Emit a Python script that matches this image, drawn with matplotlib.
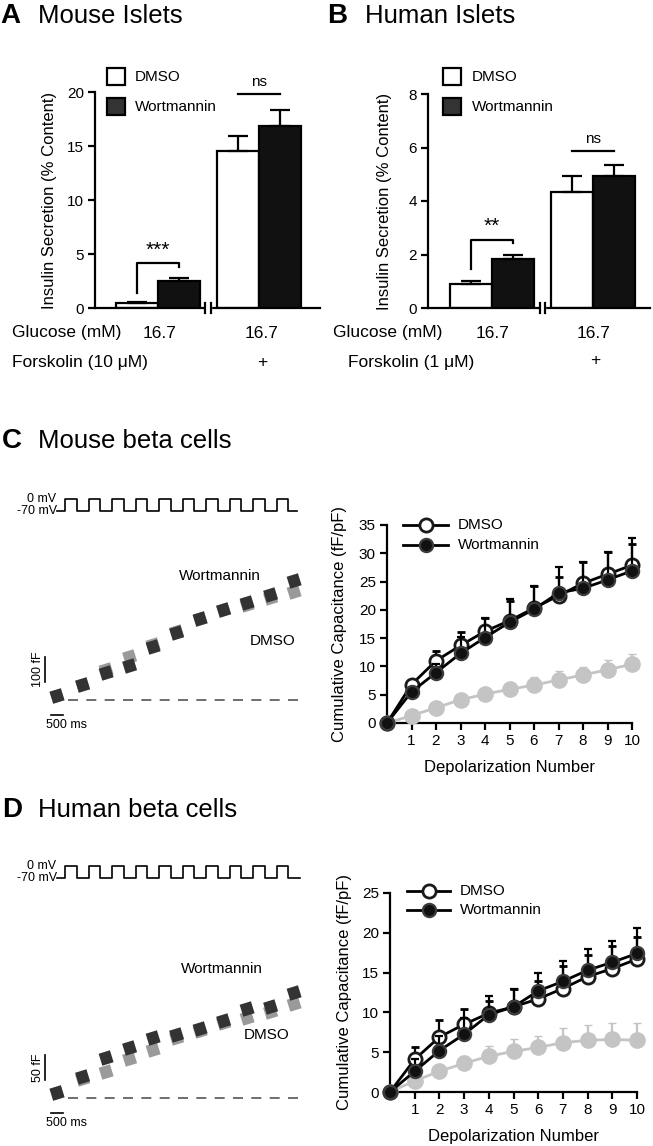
import matplotlib
matplotlib.use('Agg')
import matplotlib.pyplot as plt
import matplotlib.transforms as mtransforms
from matplotlib.patches import Rectangle
import numpy as np

plt.rcParams['font.family'] = ['Liberation Sans', 'DejaVu Sans']

W, H = 653, 1146


def box(l, t, r, b):
    # pixel box -> figure fraction
    return [l / W, 1 - b / H, (r - l) / W, (b - t) / H]


# ---------------- data ----------------
# A/B insulin secretion (% content): [16.7 mM glucose, 16.7 + forskolin]
mouse_dmso = [0.5, 14.5]
mouse_dmso_err = [0.05, 1.4]
mouse_wort = [2.5, 16.85]
mouse_wort_err = [0.3, 1.45]
human_dmso = [0.9, 4.35]
human_dmso_err = [0.12, 0.6]
human_wort = [1.83, 4.92]
human_wort_err = [0.15, 0.43]

# C/D cumulative capacitance (fF/pF)
depol = [0, 1, 2, 3, 4, 5, 6, 7, 8, 9, 10]
mouse_cap_dmso = [0, 6.8, 11.0, 13.7, 16.2, 18.1, 20.3, 22.5, 24.7, 26.3, 27.9]
mouse_cap_dmso_err = [0, 0.5, 1.7, 2.4, 2.4, 3.5, 3.9, 3.3, 3.7, 3.9, 3.8]
mouse_cap_wort = [0, 5.5, 8.9, 12.3, 15.1, 17.8, 20.1, 23.0, 23.8, 25.3, 26.9]
mouse_cap_wort_err = [0, 0.5, 1.5, 2.9, 3.5, 4.1, 4.1, 4.6, 4.6, 5.0, 5.8]
mouse_cap_grey = [0, 1.3, 2.7, 4.1, 5.1, 5.95, 6.7, 7.6, 8.5, 9.4, 10.4]
mouse_cap_grey_err = [0, 0.3, 0.4, 0.6, 0.9, 1.0, 1.4, 1.6, 1.4, 1.7, 1.8]

human_cap_dmso = [0, 4.1, 6.9, 8.5, 9.9, 10.7, 11.7, 13.0, 14.5, 15.5, 16.7]
human_cap_dmso_err = [0, 1.6, 2.1, 1.9, 1.5, 2.2, 2.2, 2.8, 2.7, 2.8, 2.8]
human_cap_wort = [0, 2.6, 5.2, 7.25, 9.7, 10.7, 12.7, 13.9, 15.3, 16.3, 17.4]
human_cap_wort_err = [0, 1.5, 1.8, 2.0, 2.3, 2.2, 2.3, 2.6, 2.7, 2.7, 3.2]
human_cap_grey = [0, 1.4, 2.6, 3.6, 4.5, 5.1, 5.6, 6.2, 6.5, 6.6, 6.5]
human_cap_grey_err = [0, 0.3, 0.5, 0.9, 1.3, 1.5, 1.4, 1.8, 1.9, 2.1, 2.2]

# example traces: pulse protocol (ms) and capacitance level after each pulse (fF)
pulse_starts = [0, 1000, 2000, 3000, 4000, 5000, 6000, 7000, 8000, 9000]
pulse_len = 500
seg_time = [-340, 750, 1750, 2750, 3750, 4750, 5750, 6750, 7750, 8750, 9750]
mouse_trace_wort = [16, 60, 108, 136, 212, 268, 324, 360, 388, 420, 476]
mouse_trace_dmso = [16, 60, 120, 172, 220, 272, 324, 360, 380, 408, 432]
human_trace_wort = [10, 42, 80, 100, 120, 126, 138, 154, 178, 182, 210]
human_trace_dmso = [10, 38, 52, 78, 96, 120, 134, 150, 160, 172, 188]

fig = plt.figure(figsize=(W / 100, H / 100), dpi=100)

BLACK = '#111111'
GREY = '#c4c4c4'


# ---------------- bar panels ----------------
def bar_panel(rect, dmso, dmso_err, wort, wort_err, xlim, ymax, yticks,
              star, bracket, star_y, ns_y, ns_txt_y, label_x):
    ax = fig.add_axes(rect)
    x = np.arange(len(dmso))
    w = 0.416
    ekw = dict(ecolor='black', elinewidth=1.6, capsize=7, capthick=1.6)
    ax.bar(x - w / 2, dmso, w, yerr=[np.zeros(len(dmso)), dmso_err],
           color='white', edgecolor='black', linewidth=1.6, error_kw=ekw)
    ax.bar(x + w / 2, wort, w, yerr=[np.zeros(len(wort)), wort_err],
           color=BLACK, edgecolor='black', linewidth=1.6, error_kw=ekw)
    ax.set_xlim(*xlim)
    ax.set_ylim(0, ymax)
    ax.set_yticks(yticks)
    ax.set_xticks([])
    for s in ['top', 'right']:
        ax.spines[s].set_visible(False)
    for s in ['left', 'bottom']:
        ax.spines[s].set_linewidth(1.6)
    ax.tick_params(axis='y', length=5, width=1.6, labelsize=11, pad=3)
    ax.set_ylabel('Insulin Secretion (% Content)', fontsize=12)
    ax.yaxis.set_label_coords(label_x, 0.5)

    # axis break
    tr = mtransforms.blended_transform_factory(ax.transData, ax.transAxes)
    ax.add_patch(Rectangle((0.47, -0.03), 0.05, 0.06, transform=tr,
                           color='white', clip_on=False, zorder=5))
    for bx in [0.47, 0.52]:
        ax.plot([bx, bx], [-0.022, 0.022], transform=tr, color='black',
                lw=1.6, clip_on=False, zorder=6)

    # significance
    l, r = -w / 2, w / 2
    b0, top, b1 = bracket
    ax.plot([l, l, r, r], [b0, top, top, b1], color='black', lw=1.6)
    ax.text(0, star_y, star, ha='center', va='center', fontsize=15)
    ax.plot([1 - w / 2, 1 + w / 2], [ns_y, ns_y], color='black', lw=1.6)
    ax.text(1, ns_txt_y, 'ns', ha='center', va='center', fontsize=11)
    return ax


axA = bar_panel(box(95, 92, 320, 308), mouse_dmso, mouse_dmso_err,
                mouse_wort, mouse_wort_err, (-0.624, 1.604), 20,
                [0, 5, 10, 15, 20], '***', (1.4, 4.17, 3.8), 5.3,
                19.8, 20.9, -0.169)
axB = bar_panel(box(428, 94, 650, 308), human_dmso, human_dmso_err,
                human_wort, human_wort_err, (-0.634, 1.564), 8,
                [0, 2, 4, 6, 8], '**', (1.46, 2.54, 2.43), 3.05,
                5.88, 6.3, -0.162)


# ---------------- capacitance panels ----------------
def cap_panel(rect, dmso, dmso_err, wort, wort_err, grey, grey_err,
              ymax, label_x):
    ax = fig.add_axes(rect)
    z = np.zeros(len(depol))
    series = [
        (grey, grey_err, dict(color=GREY, mfc=GREY, mec=GREY, ms=11, mew=1,
                              ecolor=GREY)),
        (dmso, dmso_err, dict(color='black', mfc='white', mec='#1a1a1a',
                              ms=9.5, mew=2, ecolor='black')),
        (wort, wort_err, dict(color='black', mfc=BLACK, mec='#3c3c3c',
                              ms=9.5, mew=1.6, ecolor='black')),
    ]
    for k, (y, e, st) in enumerate(series):
        cont = ax.errorbar(depol, y, yerr=[z, e], marker='o', lw=2,
                           capsize=3, elinewidth=1.6, capthick=1.6,
                           zorder=3 + k, **st)
        for child in cont.get_children():
            child.set_clip_on(False)
    ax.set_xlim(0, 10)
    ax.set_ylim(0, ymax)
    ax.set_xticks(depol[1:])
    ax.set_yticks(np.arange(0, ymax + 1, 5))
    for s in ['top', 'right']:
        ax.spines[s].set_visible(False)
    for s in ['left', 'bottom']:
        ax.spines[s].set_linewidth(1.6)
    ax.tick_params(length=5, width=1.6, labelsize=11, pad=3)
    ax.set_ylabel('Cumulative Capacitance (fF/pF)', fontsize=12)
    ax.yaxis.set_label_coords(label_x, 0.5)
    ax.set_xlabel('Depolarization Number', fontsize=12)
    ax.xaxis.set_label_coords(0.5, -0.187)
    return ax


axC2 = cap_panel(box(387, 525, 632, 723), mouse_cap_dmso, mouse_cap_dmso_err,
                 mouse_cap_wort, mouse_cap_wort_err, mouse_cap_grey,
                 mouse_cap_grey_err, 35, -0.163)
axD2 = cap_panel(box(390, 893, 637, 1092), human_cap_dmso, human_cap_dmso_err,
                 human_cap_wort, human_cap_wort_err, human_cap_grey,
                 human_cap_grey_err, 25, -0.154)


# ---------------- example traces ----------------
MS_PER_PX = 1000 / 23.5


def t_of(px):
    return (px - 65) * MS_PER_PX


def trace_panel(v_box, c_box, v_ylim, c_ylim, wort, dmso, half_blob,
                bar_len, bar_lab, wave_end, lab_wort, lab_dmso):
    xl = (t_of(10), t_of(320))
    # voltage protocol
    av = fig.add_axes(v_box)
    tw, vw = [t_of(57)], [-70]
    for s in pulse_starts:
        tw += [s, s, s + pulse_len, s + pulse_len]
        vw += [-70, 0, 0, -70]
    tw.append(wave_end)
    vw.append(-70)
    av.plot(tw, vw, color='black', lw=1.2)
    av.set_xlim(*xl)
    av.set_ylim(*v_ylim)
    av.axis('off')
    av.text(t_of(56), 0, '0 mV', ha='right', va='center', fontsize=9)
    av.text(t_of(57), -70, '-70 mV', ha='right', va='center', fontsize=9)

    # capacitance
    ac = fig.add_axes(c_box)
    for lev, col in [(dmso, '#9a9a9a'), (wort, '#333333')]:
        for t, c in zip(seg_time, lev):
            ac.plot([t - 240, t + 240], [c - half_blob, c + half_blob],
                    color=col, lw=9, solid_capstyle='butt')
    ac.plot([t_of(68), t_of(301)], [0, 0], color='#555555', lw=1.2,
            dashes=(6, 5))
    ac.set_xlim(*xl)
    ac.set_ylim(*c_ylim)
    ac.axis('off')
    # scale bars
    bx = t_of(45)
    ac.plot([bx, bx], [bar_len * 0.72, bar_len * 1.72], color='black', lw=1.2)
    ac.text(t_of(38), bar_len * 1.22, bar_lab, rotation=90, ha='center',
            va='center', fontsize=9)
    ac.plot([-600, -100], [-bar_len * 0.6, -bar_len * 0.6], color='black',
            lw=1.2)
    ac.text(t_of(66), -bar_len, '500 ms', ha='center', va='center',
            fontsize=9)
    ac.text(t_of(lab_wort[0]), lab_wort[1], 'Wortmannin', ha='center',
            va='center', fontsize=11)
    ac.text(t_of(lab_dmso[0]), lab_dmso[1], 'DMSO', ha='center',
            va='center', fontsize=11)


trace_panel(box(10, 490, 320, 520), box(10, 555, 320, 735),
            (-70 - 9 * 70 / 12, -70 + 21 * 70 / 12), (-140, 580),
            mouse_trace_wort, mouse_trace_dmso, 7, 100, '100 fF',
            t_of(297), (220, 496), (273, 236))
trace_panel(box(10, 855, 320, 885), box(10, 950, 320, 1130),
            (-70 - 7 * 70 / 12, -70 + 23 * 70 / 12), (-64, 296),
            human_trace_wort, human_trace_dmso, 3.5, 50, '50 fF',
            t_of(300), (222, 258), (267, 126))

# ---------------- overlay: titles, legends, row labels ----------------
ov = fig.add_axes([0, 0, 1, 1], zorder=10)
ov.set_xlim(0, W)
ov.set_ylim(H, 0)
ov.axis('off')
ov.patch.set_visible(False)

for letter, lx, title, tx, ty in [('A', 0, 'Mouse Islets', 38, 23),
                                  ('B', 327, 'Human Islets', 365, 23),
                                  ('C', 2, 'Mouse beta cells', 38, 448),
                                  ('D', 2, 'Human beta cells', 38, 817)]:
    ov.text(lx, ty, letter, fontsize=20, fontweight='bold', va='baseline')
    ov.text(tx, ty, title, fontsize=18.5, va='baseline')

# bar legends
for lx, tx in [(107, 135), (443, 472)]:
    ov.add_patch(Rectangle((lx, 68), 18, 17, facecolor='white',
                           edgecolor='black', lw=1.6))
    ov.add_patch(Rectangle((lx, 98), 18, 17, facecolor='#333333',
                           edgecolor='black', lw=1.6))
    ov.text(tx, 77, 'DMSO', fontsize=11, va='center')
    ov.text(tx, 107, 'Wortmannin', fontsize=11, va='center')

# line legends
for x0, x1, tx, y0, y1 in [(403, 448, 458, 525, 545),
                           (407, 450, 460, 891, 910)]:
    xm = (x0 + x1) / 2
    ov.plot([x0, x1], [y0, y0], color='black', lw=2)
    ov.plot([xm], [y0], marker='o', ms=9.5, mfc='white', mec='#1a1a1a', mew=2)
    ov.text(tx, y0, 'DMSO', fontsize=11, va='center')
    ov.plot([x0, x1], [y1, y1], color='black', lw=2)
    ov.plot([xm], [y1], marker='o', ms=9.5, mfc=BLACK, mec='#3c3c3c', mew=1.6)
    ov.text(tx, y1, 'Wortmannin', fontsize=11, va='center')

# treatment rows
ov.text(12, 333, 'Glucose (mM)', fontsize=12.5, va='center')
ov.text(160, 333, '16.7', fontsize=12.5, va='center', ha='center')
ov.text(262, 333, '16.7', fontsize=12.5, va='center', ha='center')
ov.text(12, 363, 'Forskolin (10 μM)', fontsize=12.5, va='center')
ov.text(262, 362, '+', fontsize=12.5, va='center', ha='center')

ov.text(333, 333, 'Glucose (mM)', fontsize=12.5, va='center')
ov.text(493, 333, '16.7', fontsize=12.5, va='center', ha='center')
ov.text(594, 333, '16.7', fontsize=12.5, va='center', ha='center')
ov.text(348, 363, 'Forskolin (1 μM)', fontsize=12.5, va='center')
ov.text(595, 360, '+', fontsize=12.5, va='center', ha='center')

fig.savefig('out.png', dpi=100)
